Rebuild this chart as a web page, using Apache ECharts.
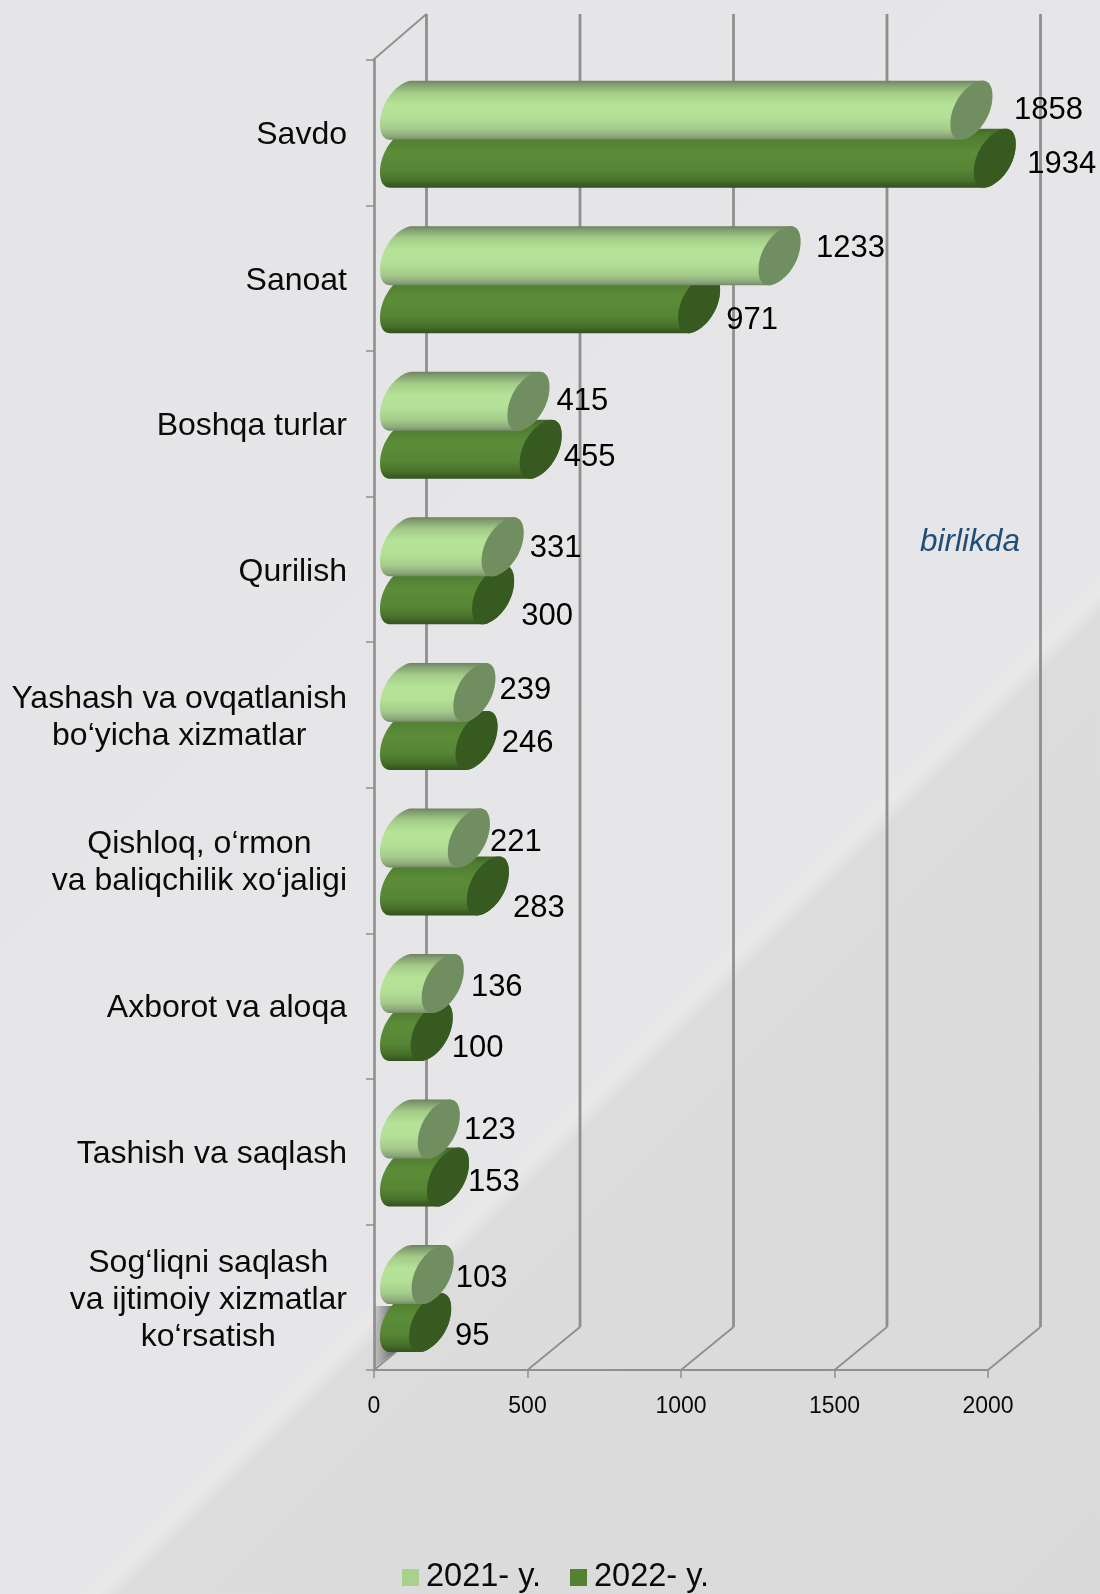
<!DOCTYPE html>
<html>
<head>
<meta charset="utf-8">
<style>html,body{margin:0;padding:0}#chart{width:1100px;height:1594px}</style>
<script src="https://cdn.jsdelivr.net/npm/echarts@6/dist/echarts.min.js"></script>
</head>
<body>
<div id="chart"></div>
<script>
// ---- data ----
const categories = [
  "Savdo", "Sanoat", "Boshqa turlar", "Qurilish",
  "Yashash va ovqatlanish\nbo‘yicha xizmatlar",
  "Qishloq, o‘rmon\nva baliqchilik xo‘jaligi",
  "Axborot va aloqa", "Tashish va saqlash",
  "Sog‘liqni saqlash\nva ijtimoiy xizmatlar\nko‘rsatish"
];
const values2021 = [1858, 1233, 415, 331, 239, 221, 136, 123, 103];
const values2022 = [1934, 971, 455, 300, 246, 283, 100, 153, 95];
const xTicks = [0, 500, 1000, 1500, 2000];
const seriesNames = ["2021- y.", "2022- y."];
const unitNote = "birlikda";

// ---- hand-placed data label nudges, from a bar's end and centre line ----
const labelNudge2021 = [[104,0],[98,-7],[81,0],[80,2],[78,-2],[74,4],[81,4],[78,1],[76,4]];
const labelNudge2022 = [[94,6],[80,17],[76,8],[81,22],[78,3],[78,22],[73,17],[73,5],[69,14]];

// ---- styles ----
const font = '"Liberation Sans", Arial, sans-serif';
const frameColor = '#8f8f8f';
const depth = {dx: 52.5, top: -46, bottom: -43};
const style2021 = {
  legend: '#a9d18e', cap: '#708e60', offset: -22.6,
  stops: [[0,'#6d7f5f'],[0.05,'#7f9a6d'],[0.2,'#a3cb87'],[0.4,'#b5e398'],[0.62,'#b3e096'],[0.82,'#a5cb8b'],[0.95,'#8ba679'],[1,'#74886a']],
  nudge: labelNudge2021, z: 6
};
const style2022 = {
  legend: '#548235', cap: '#375a20', offset: 25.4,
  stops: [[0,'#42682a'],[0.12,'#4f7c31'],[0.4,'#5b8d38'],[0.7,'#578636'],[0.88,'#477029'],[1,'#33511f']],
  nudge: labelNudge2022, z: 5
};

// end-cap outline of the sheared cylinder, around its centre
const capOutline = (function () {
  const pts = [], a = 21, b = 14, c = 25.5, p = 0.94, n = 72;
  const pow = function (v) { return Math.sign(v) * Math.pow(Math.abs(v), p); };
  for (let i = 0; i < n; i++) {
    const t = i / n * Math.PI * 2, u = pow(Math.cos(t)), v = pow(Math.sin(t));
    pts.push([a * u, -b * u - c * v]);
  }
  const m = Math.max.apply(null, pts.map(function (q) { return Math.abs(q[1]); }));
  return pts.map(function (q) { return [q[0], q[1] * 29.5 / m]; });
})();
const capTop = capOutline.reduce(function (best, q, i) { return q[1] < capOutline[best][1] ? i : best; }, 0);
const capBottom = capOutline.reduce(function (best, q, i) { return q[1] > capOutline[best][1] ? i : best; }, 0);

function renderBar(st) {
  return function (params, api) {
    const val = api.value(0), idx = api.value(1);
    const end = api.coord([val, idx]);
    const start = api.coord([0, idx]);
    const cy = end[1] + st.offset;
    const cx0 = start[0] + 27, cx1 = end[0] + 27;
    const n = capOutline.length, poly = [];
    for (let i = capTop; i <= capBottom; i++) poly.push([cx0 + capOutline[i][0], cy + capOutline[i][1]]);
    for (let i = capBottom; i <= capTop + n; i++) {
      const q = capOutline[i % n];
      poly.push([cx1 + q[0], cy + q[1]]);
    }
    const cap = capOutline.map(function (q) { return [cx1 + q[0], cy + q[1]]; });
    const nudge = st.nudge[idx];
    return {
      type: 'group',
      children: [
        { type: 'polygon', shape: {points: poly}, style: {
            fill: new echarts.graphic.LinearGradient(0, 0, 0, 1,
              st.stops.map(function (s) { return {offset: s[0], color: s[1]}; })) } },
        { type: 'polygon', shape: {points: cap}, style: {fill: st.cap} },
        { type: 'text', x: end[0] + nudge[0], y: cy + nudge[1], z2: 20, style: {
            text: String(val), font: '31px ' + font, fill: '#000',
            textAlign: 'center', textVerticalAlign: 'middle' } }
      ]
    };
  };
}

function renderFrame(params, api) {
  const tick = api.value(0);
  const half = api.size([0, 1])[1] / 2;
  const first = api.coord([tick, 0]);
  const last = api.coord([tick, categories.length - 1]);
  const x = first[0], topY = first[1] - half, bottomY = last[1] + half;
  const bx = x + depth.dx;
  const lines = [
    { type: 'line', shape: {x1: bx, y1: topY + depth.top, x2: bx, y2: bottomY + depth.bottom},
      style: {stroke: frameColor, lineWidth: 2.8} },
    { type: 'line', shape: {x1: x, y1: bottomY, x2: bx, y2: bottomY + depth.bottom},
      style: {stroke: frameColor, lineWidth: 1.8} }
  ];
  if (tick === xTicks[0]) {
    lines.push({ type: 'line', shape: {x1: x - 1, y1: topY, x2: bx, y2: topY + depth.top},
      style: {stroke: frameColor, lineWidth: 1.8} });
    lines.push({ type: 'polygon',
      shape: {points: [[x + 1, bottomY - 3], [x + 1, bottomY - 64], [x + 21, bottomY - 64], [x + 21, bottomY - 18]]},
      style: {fill: new echarts.graphic.LinearGradient(0, 0, 1, 0, [
        {offset: 0, color: 'rgba(130,130,130,0.35)'},
        {offset: 1, color: 'rgba(90,90,90,0.95)'}])} });
  }
  return {type: 'group', children: lines};
}

const richLabel = {c: {align: 'center', fontSize: 32, lineHeight: 37, fontFamily: font, color: '#0a0a0a'}};
const chart = echarts.init(document.getElementById('chart'), null, {renderer: 'canvas'});
chart.setOption({
  animation: false,
  backgroundColor: new echarts.graphic.LinearGradient(0, 0, 1347, 1347, [
    {offset: 0, color: '#e5e5e7'},
    {offset: 0.618, color: '#e6e6e8'},
    {offset: 0.628, color: '#e9e9ea'},
    {offset: 0.637, color: '#dcdcdc'},
    {offset: 1, color: '#dadada'}
  ], true),
  grid: {left: 374, right: 112, top: 60, bottom: 224},
  xAxis: {
    type: 'value', min: xTicks[0], max: xTicks[xTicks.length - 1], interval: 500,
    splitLine: {show: false},
    axisLine: {show: true, onZero: false, lineStyle: {color: frameColor, width: 2}},
    axisTick: {show: true, length: 8, lineStyle: {color: frameColor, width: 1.5}},
    axisLabel: {margin: 25, fontSize: 23, fontFamily: font, color: '#0a0a0a', formatter: function (v) { return String(v); }}
  },
  yAxis: {
    type: 'category', inverse: true, data: categories, offset: 1.5,
    axisLine: {show: true, lineStyle: {color: frameColor, width: 2.6}},
    axisTick: {show: true, length: 8, lineStyle: {color: frameColor, width: 1.5}},
    axisLabel: {
      margin: 25.5, align: 'right', rich: richLabel, padding: [5, 0, 0, 0],
      formatter: function (v) {
        return v.split('\n').map(function (s) { return '{c|' + s + '}'; }).join('\n');
      }
    }
  },
  legend: {
    left: 402, top: 1561, padding: 0, itemWidth: 17, itemHeight: 17, itemGap: 29, icon: 'rect',
    data: seriesNames,
    textStyle: {fontSize: 32.5, fontFamily: font, color: '#0a0a0a', padding: [4, 0, 0, 2]}
  },
  graphic: [{
    type: 'text', x: 970, y: 542, z: 10,
    style: {text: unitNote, font: 'italic 31.5px ' + font, fill: '#1f4e79', textAlign: 'center', textVerticalAlign: 'middle'}
  }],
  series: [
    {
      type: 'custom', name: 'frame', z: 1, silent: true, coordinateSystem: 'cartesian2d',
      data: xTicks.map(function (t) { return [t, 0]; }), renderItem: renderFrame,
      encode: {x: 0, y: 1}, clip: false
    },
    {
      type: 'custom', name: seriesNames[0], z: style2021.z, coordinateSystem: 'cartesian2d',
      itemStyle: {color: style2021.legend}, clip: false, encode: {x: 0, y: 1},
      data: values2021.map(function (v, i) { return [v, i]; }), renderItem: renderBar(style2021)
    },
    {
      type: 'custom', name: seriesNames[1], z: style2022.z, coordinateSystem: 'cartesian2d',
      itemStyle: {color: style2022.legend}, clip: false, encode: {x: 0, y: 1},
      data: values2022.map(function (v, i) { return [v, i]; }), renderItem: renderBar(style2022)
    }
  ]
});
</script>
</body>
</html>
